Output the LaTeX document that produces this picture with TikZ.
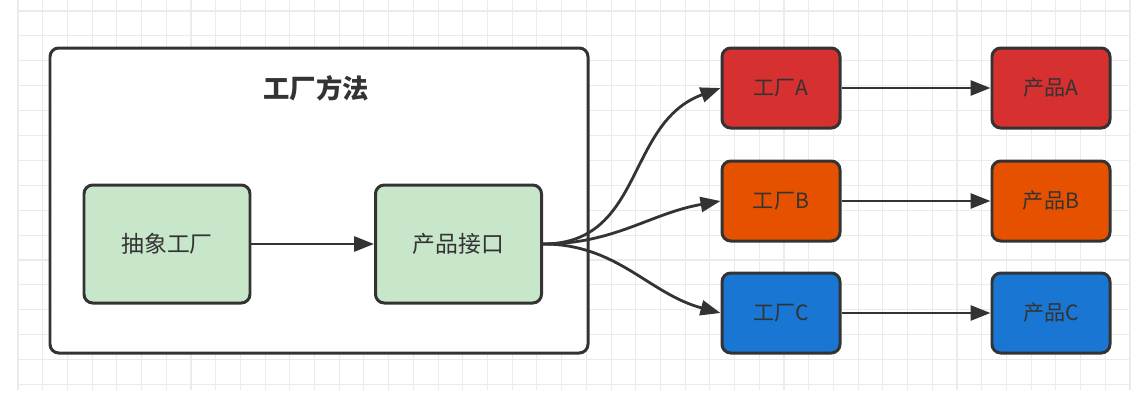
\documentclass[tikz,border=0pt]{standalone}
\usepackage{fontspec}
\setmainfont{Noto Sans CJK SC}
\usepackage{tikz}
\usetikzlibrary{positioning,arrows.meta}

\definecolor{gridgray}{HTML}{EBEBEB}
\definecolor{inkgray}{HTML}{333333}
\definecolor{mintgreen}{HTML}{C8E6C9}
\definecolor{factred}{HTML}{D63031}
\definecolor{factorange}{HTML}{E65100}
\definecolor{factblue}{HTML}{1976D2}

\begin{document}
\begin{tikzpicture}[>={Triangle[length=0.4cm,width=0.3cm]},
    gridline/.style={gridgray, line width=0.6pt},
    outerbox/.style={draw=inkgray, line width=1.7pt, rounded corners=5pt, fill=white, minimum width=10.76cm, minimum height=6.1cm},
    greenbox/.style={draw=inkgray, line width=1.7pt, rounded corners=5pt, fill=mintgreen, minimum width=3.32cm, minimum height=2.36cm, text=inkgray, font=\fontsize{13}{15}\selectfont},
    colbox/.style={draw=inkgray, line width=1.7pt, rounded corners=5pt, minimum width=2.36cm, minimum height=1.6cm, text=inkgray, font=\fontsize{12}{14}\selectfont},
    link/.style={->, draw=inkgray, line width=1.6pt}]
  \useasboundingbox[fill=white] (0,0) rectangle (22.9,-8.3);
  % background grid
  \foreach \i in {0,...,45}
    \draw[gridline] ({0.36+\i*0.4942},0) -- ({0.36+\i*0.4942},-7.8);
  \foreach \j in {0,...,15}
    \draw[gridline] (0.36,{-0.22-\j*0.498}) -- (22.6,{-0.22-\j*0.498});

  % factory method frame
  \node[outerbox] (frame) at (6.38,-4.01) {};
  \node[text=inkgray, font=\fontsize{15}{17}\selectfont\bfseries] (title) at (6.32,-1.76) {工厂方法};
  \node[greenbox] (abs) at (3.34,-4.88) {抽象工厂};
  \node[greenbox] (iface) at (9.17,-4.88) {产品接口};
  \draw[link] (abs) -- (iface);

  % concrete factories
  \node[colbox, fill=factred] (fa) at (15.62,-1.76) {工厂A};
  \node[colbox, fill=factorange] (fb) at (15.62,-4.02) {工厂B};
  \node[colbox, fill=factblue] (fc) at (15.62,-6.26) {工厂C};

  % products
  \node[colbox, fill=factred, right=2.98cm of fa] (pa) {产品A};
  \node[colbox, fill=factorange, right=2.98cm of fb] (pb) {产品B};
  \node[colbox, fill=factblue, right=2.98cm of fc] (pc) {产品C};

  \draw[link] (iface.east) to[out=0, in=200, looseness=1.1] (fa.west);
  \draw[link] (iface.east) to[out=0, in=190] (fb.west);
  \draw[link] (iface.east) to[out=0, in=165] (fc.west);
  \draw[link] (fa) -- (pa);
  \draw[link] (fb) -- (pb);
  \draw[link] (fc) -- (pc);
\end{tikzpicture}
\end{document}
